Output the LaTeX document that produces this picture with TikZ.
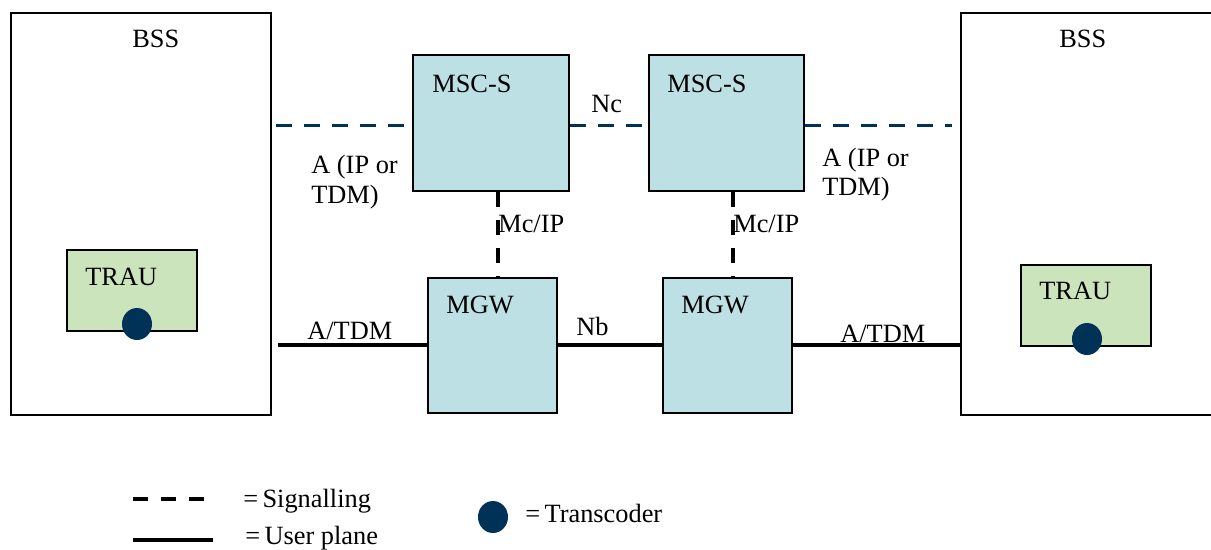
\documentclass[tikz,border=0pt]{standalone}
\usepackage{fontspec}
\setmainfont{Liberation Serif}
\definecolor{mscfill}{HTML}{BCE0E3}
\definecolor{traufill}{HTML}{CCE4BC}
\definecolor{navy}{HTML}{003157}
\tikzset{
  box/.style={draw=black, line width=1pt, inner sep=0pt},
  bssbox/.style={box, fill=white},
  netbox/.style={box, fill=mscfill},
  traubox/.style={box, fill=traufill},
  lbl/.style={anchor=base west, inner sep=0pt, font=\fontsize{15}{17}\selectfont},
  sig/.style={navy, line width=1.7pt, dash pattern=on 0.32cm off 0.24cm},
  mc/.style={black, line width=1.8pt, dash pattern=on 0.3cm off 0.26cm},
  user/.style={black, line width=1.8pt},
  tc/.style={fill=navy, draw=none, ellipse, minimum width=0.6cm, minimum height=0.64cm}
}
\usetikzlibrary{shapes.geometric}
\begin{document}
\begin{tikzpicture}[x=0.02cm, y=-0.02cm]
  \useasboundingbox (0,0) rectangle (1211,549);
  % boxes
  \node[bssbox, minimum width=5.2cm, minimum height=8.04cm] (bssL) at (141,214) {};
  \node[bssbox, minimum width=5.2cm, minimum height=8.04cm] (bssR) at (1091,214) {};
  \node[netbox, minimum width=3.12cm, minimum height=2.72cm] (mscL) at (491,123) {};
  \node[netbox, minimum width=3.1cm, minimum height=2.72cm] (mscR) at (726.5,123) {};
  \node[netbox, minimum width=2.58cm, minimum height=2.7cm] (mgwL) at (492.5,345.5) {};
  \node[netbox, minimum width=2.58cm, minimum height=2.7cm] (mgwR) at (727.5,345.5) {};
  \node[traubox, minimum width=2.6cm, minimum height=1.62cm] (trauL) at (132,290.5) {};
  \node[traubox, minimum width=2.6cm, minimum height=1.62cm] (trauR) at (1086,305.5) {};
  \node[tc] (tcL) at (137,324) {};
  \node[tc] (tcR) at (1087,339) {};
  % signalling
  \coordinate (sigL) at (276,125);
  \coordinate (sigR) at (952,125);
  \begin{scope}[sig]
    \draw (sigL) -- (sigL -| mscL.west);
    \draw (mscL.east |- sigL) -- (mscR.west |- sigL);
    \draw (mscR.east |- sigL) -- (sigR);
  \end{scope}
  \draw[mc] (mscL.south -| 498,0) -- (mgwL.north -| 498,0);
  \draw[mc] (mscR.south -| 733,0) -- (mgwR.north -| 733,0);
  % user plane
  \coordinate (upL) at (278,345);
  \begin{scope}[user]
    \draw (upL) -- (upL -| mgwL.west);
    \draw (mgwL.east |- upL) -- (mgwR.west |- upL);
    \draw (mgwR.east |- upL) -- (bssR.west |- upL);
  \end{scope}
  % labels
  \node[lbl] (tBssL) at (132,47) {BSS};
  \node[lbl] (tBssR) at (1059,47) {BSS};
  \node[lbl] (tMscL) at (432,92) {MSC-S};
  \node[lbl] (tMscR) at (667,92) {MSC-S};
  \node[lbl] (tNc) at (591,112) {Nc};
  \node[lbl] (tMcL) at (498,232) {Mc/IP};
  \node[lbl] (tMcR) at (733,232) {Mc/IP};
  \node[lbl] (tMgwL) at (446,313) {MGW};
  \node[lbl] (tMgwR) at (681,313) {MGW};
  \node[lbl] (tNb) at (576,335) {Nb};
  \node[lbl] (tAtdmL) at (307,339) {A/TDM};
  \node[lbl] (tAtdmR) at (840,342) {A/TDM};
  \node[lbl] (tAipL1) at (311,173) {A (IP or};
  \node[lbl] (tAipL2) at (311,203) {TDM)};
  \node[lbl] (tAipR1) at (822,166) {A (IP or};
  \node[lbl] (tAipR2) at (822,195) {TDM)};
  \node[lbl] (tTrauL) at (85,285) {TRAU};
  \node[lbl] (tTrauR) at (1039,299) {TRAU};
  % legend
  \coordinate (legS1) at (133,499);
  \coordinate (legS2) at (205,499);
  \coordinate (legU1) at (133,540);
  \coordinate (legU2) at (213,540);
  \draw[mc] (legS1) -- (legS2);
  \draw[user] (legU1) -- (legU2);
  \node[lbl] (tSig) at (243,507) {=\,Signalling};
  \node[lbl] (tUser) at (245,544) {=\,User plane};
  \node[tc] (tcLeg) at (493,517) {};
  \node[lbl] (tTc) at (525,522) {=\,Transcoder};
\end{tikzpicture}
\end{document}
